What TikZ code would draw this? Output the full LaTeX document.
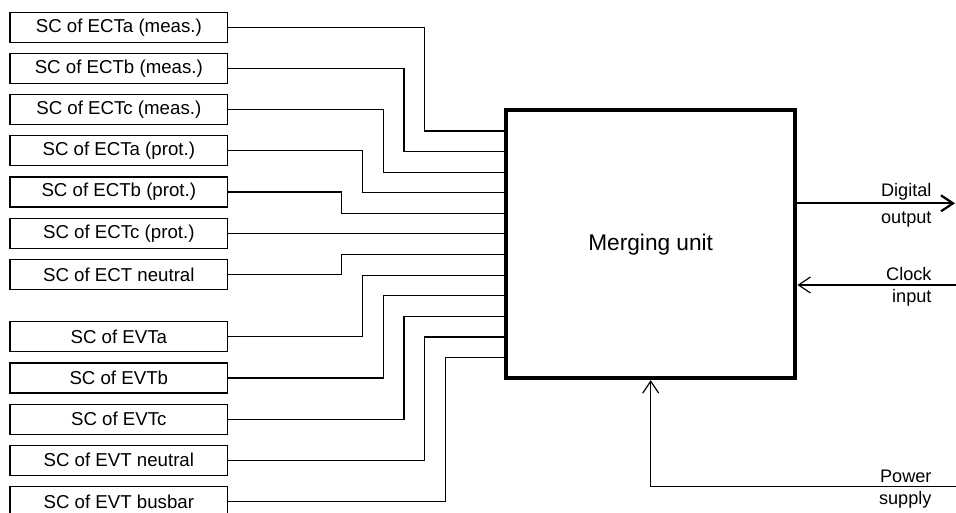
\documentclass[tikz,border=0pt]{standalone}
\usepackage{fontspec}
\setmainfont{Liberation Sans}
\usetikzlibrary{calc}
\usetikzlibrary{arrows.meta}
\tikzset{every picture/.style={line width=0.75pt}}
\tikzset{scbox/.style={draw, line width=0.9pt, minimum width=163.3pt, minimum height=22.5pt, inner sep=0pt, font=\fontsize{14}{16}\selectfont}}
\tikzset{mubox/.style={draw, line width=3pt, minimum width=217pt, minimum height=200.8pt, inner sep=0pt, font=\fontsize{17}{20}\selectfont}}
\tikzset{feed/.style={line width=0.9pt}}
\tikzset{sig/.style={line width=0.9pt, -{Straight Barb[length=9pt, width=12pt]}}}
\tikzset{lbl/.style={anchor=base east, inner sep=0pt, font=\fontsize{13.6}{16}\selectfont}}

\begin{document}
\begin{tikzpicture}[x=0.75pt,y=0.75pt,yscale=-1,xscale=1]
\useasboundingbox (0,0) rectangle (956,513);

%Shape: Rectangle -- merging unit
\node[mubox] (mu) at (650.7,244.2) {Merging unit};

%Shape: Rectangle -- secondary converters
\node[scbox] (ectAm) at (118.8,27.3) {SC of ECTa (meas.)};
\node[scbox] (ectBm) at (118.8,68.5) {SC of ECTb (meas.)};
\node[scbox] (ectCm) at (118.8,109.7) {SC of ECTc (meas.)};
\node[scbox] (ectAp) at (118.8,150.9) {SC of ECTa (prot.)};
\node[scbox] (ectBp) at (118.8,192.1) {SC of ECTb (prot.)};
\node[scbox] (ectCp) at (118.8,233.3) {SC of ECTc (prot.)};
\node[scbox] (ectN) at (118.8,274.5) {SC of ECT neutral};
\node[scbox] (evtA) at (118.8,336.7) {SC of EVTa};
\node[scbox] (evtB) at (118.8,377.9) {SC of EVTb};
\node[scbox] (evtC) at (118.8,419.1) {SC of EVTc};
\node[scbox] (evtN) at (118.8,460.3) {SC of EVT neutral};
\node[scbox] (evtBus) at (118.8,501.5) {SC of EVT busbar};

%inputs on the merging unit
\coordinate (in1) at (506,131);
\coordinate (in2) at (506,151.6);
\coordinate (in3) at (506,172.2);
\coordinate (in4) at (506,192.8);
\coordinate (in5) at (506,213.4);
\coordinate (in6) at (506,233.3);
\coordinate (in7) at (506,254.6);
\coordinate (in8) at (506,275.2);
\coordinate (in9) at (506,295.8);
\coordinate (in10) at (506,316.4);
\coordinate (in11) at (506,337);
\coordinate (in12) at (506,357.6);

%Straight Lines
\draw[feed] (ectAm.east) -- ++(196.6,0) |- (in1);
\draw[feed] (ectBm.east) -- ++(175.8,0) |- (in2);
\draw[feed] (ectCm.east) -- ++(155,0) |- (in3);
\draw[feed] (ectAp.east) -- ++(134.2,0) |- (in4);
\draw[feed] (ectBp.east) -- ++(113.4,0) |- (in5);
\draw[feed] (ectCp.east) -- (in6);
\draw[feed] (ectN.east) -- ++(113.4,0) |- (in7);
\draw[feed] (evtA.east) -- ++(134.2,0) |- (in8);
\draw[feed] (evtB.east) -- ++(155,0) |- (in9);
\draw[feed] (evtC.east) -- ++(175.8,0) |- (in10);
\draw[feed] (evtN.east) -- ++(196.6,0) |- (in11);
\draw[feed] (evtBus.east) -- ++(216.9,0) |- (in12);

%outputs and supplies
\coordinate (dout) at (955,203.3);
\coordinate (clk) at (956,285);
\coordinate (pwr) at (956,486.7);
\draw[sig, line width=1.7pt] (mu.east |- dout) -- (dout);
\draw[sig] (clk) -- (clk -| mu.east);
\draw[sig] (pwr) -| (mu.south);

% Text Node
\node[lbl] (lblDig) at (932,196.7) {Digital};
% Text Node
\node[lbl] (lblOut) at (932,224) {output};
% Text Node
\node[lbl] (lblClk) at (932,281) {Clock};
% Text Node
\node[lbl] (lblIn) at (932,302.7) {input};
% Text Node
\node[lbl] (lblPow) at (932,482.7) {Power};
% Text Node
\node[lbl] (lblSup) at (932,504) {supply};

\end{tikzpicture}
\end{document}
